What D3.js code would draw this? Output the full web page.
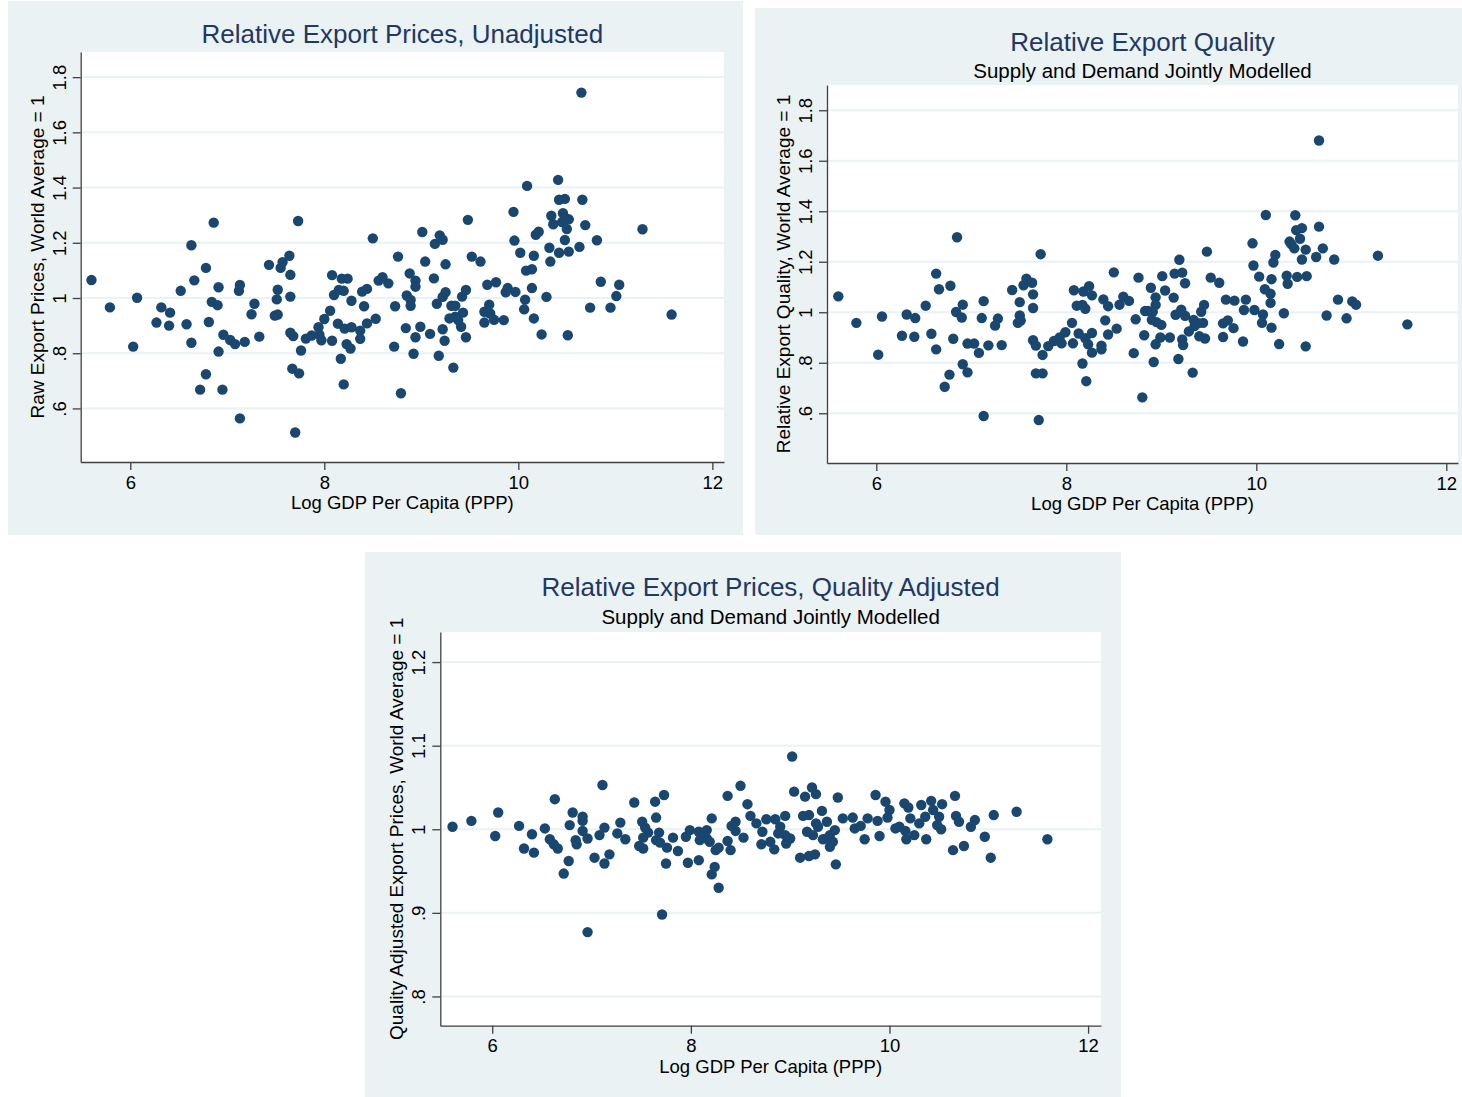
<!DOCTYPE html>
<html>
<head>
<meta charset="utf-8">
<script src="https://cdn.jsdelivr.net/npm/d3@7"></script>
<style>
  body { margin: 0; background: #fff; }
  svg { display: block; font-family: "Liberation Sans", Arial, sans-serif; }
</style>
</head>
<body>
<div id="chart"></div>
<script>
// Three Stata-style scatter plots: log GDP per capita against relative export prices / quality

var xTicks = [6, 8, 10, 12]
var xTickLabels = ['6', '8', '10', '12']
var yTicksWide = [0.6, 0.8, 1, 1.2, 1.4, 1.6, 1.8]
var yTickLabelsWide = ['.6', '.8', '1', '1.2', '1.4', '1.6', '1.8']
var yTicksNarrow = [0.8, 0.9, 1, 1.1, 1.2]
var yTickLabelsNarrow = ['.8', '.9', '1', '1.1', '1.2']

// [log GDP per capita, relative value]
var rawPrices = [
  [5.60,1.065],[5.79,0.966],[6.07,1.001],[6.03,0.824],[6.32,0.966],[6.41,0.947],[6.27,0.911],[6.40,0.900],
  [6.52,1.026],[6.63,1.191],[6.66,1.064],[6.58,0.905],[6.63,0.838],[6.78,1.109],[6.86,1.273],[6.91,1.039],
  [6.84,0.986],[6.90,0.974],[6.81,0.913],[6.96,0.867],[6.91,0.806],[6.78,0.724],[6.72,0.668],[6.95,0.668],
  [7.03,0.848],[7.08,0.833],[7.18,0.841],[7.13,1.047],[7.12,1.026],[7.13,0.564],[7.28,0.979],[7.25,0.941],
  [7.33,0.860],[7.43,1.120],[7.52,1.030],[7.51,0.995],[7.49,0.936],[7.52,0.940],[7.55,1.109],[7.57,1.130],
  [7.64,1.153],[7.65,1.084],[7.65,1.005],[7.73,1.279],[7.65,0.874],[7.68,0.862],[7.76,0.810],[7.67,0.744],
  [7.74,0.727],[7.70,0.513],[7.81,0.853],[7.87,0.864],[7.94,0.894],[7.95,0.867],[7.97,0.847],[8.00,0.924],
  [8.06,0.954],[8.08,1.083],[8.08,0.845],[8.10,1.011],[8.15,1.029],[8.20,1.026],[8.18,1.070],[8.24,1.070],
  [8.14,0.907],[8.21,0.889],[8.28,0.894],[8.28,0.990],[8.23,0.833],[8.27,0.817],[8.17,0.780],[8.20,0.687],
  [8.37,0.882],[8.37,0.852],[8.41,0.970],[8.39,1.023],[8.44,1.033],[8.44,0.908],[8.53,0.925],[8.50,1.216],
  [8.56,1.063],[8.60,1.075],[8.66,1.053],[8.72,0.824],[8.73,0.970],[8.76,1.150],[8.79,0.655],[8.84,0.891],
  [8.85,1.009],[8.88,1.089],[8.92,0.798],[9.01,1.239],[8.94,1.063],[8.94,1.041],[8.89,0.993],[8.89,0.972],
  [8.94,0.858],[8.99,0.896],[9.04,1.132],[9.13,1.071],[9.09,0.870],[9.18,0.791],[9.14,1.196],[9.19,1.227],
  [9.22,1.211],[9.25,1.122],[9.16,0.979],[9.22,1.004],[9.25,1.021],[9.22,0.887],[9.24,0.845],[9.33,0.748],
  [9.31,0.972],[9.35,0.972],[9.29,0.926],[9.35,0.932],[9.41,0.896],[9.43,0.947],[9.38,0.920],[9.42,1.005],
  [9.46,1.029],[9.46,0.858],[9.48,1.283],[9.52,1.150],[9.61,1.132],[9.65,0.911],[9.65,0.950],[9.70,0.976],
  [9.68,1.048],[9.75,0.921],[9.71,0.944],[9.77,1.057],[9.85,0.920],[9.87,1.021],[9.89,1.036],[9.97,1.022],
  [9.95,1.312],[9.96,1.208],[10.02,1.164],[10.09,1.406],[10.16,1.153],[10.14,1.036],[10.07,0.994],[10.06,0.959],
  [10.08,1.099],[10.14,1.104],[10.16,0.926],[10.24,0.868],[10.18,1.229],[10.21,1.240],[10.29,1.004],[10.32,1.182],
  [10.33,1.132],[10.42,1.164],[10.34,1.298],[10.41,1.428],[10.42,1.356],[10.48,1.359],[10.36,1.267],[10.46,1.307],
  [10.45,1.275],[10.52,1.285],[10.50,1.250],[10.48,1.210],[10.52,1.168],[10.51,0.865],[10.63,1.185],[10.66,1.356],
  [10.69,1.264],[10.65,1.744],[10.81,1.209],[10.74,0.965],[10.85,1.059],[10.95,0.965],[11.01,1.007],[11.04,1.048],
  [11.28,1.249],[11.58,0.940]
]

var exportQuality = [
  [5.60,1.063],[5.79,0.958],[6.06,0.983],[6.02,0.832],[6.32,0.991],[6.41,0.977],[6.27,0.907],[6.40,0.903],
  [6.52,1.026],[6.63,1.153],[6.66,1.091],[6.58,0.915],[6.63,0.853],[6.78,1.105],[6.85,1.297],[6.91,1.030],
  [6.84,1.001],[6.90,0.979],[6.81,0.895],[6.96,0.876],[6.91,0.794],[6.77,0.753],[6.72,0.705],[6.96,0.762],
  [7.03,0.876],[7.08,0.839],[7.18,0.869],[7.13,1.044],[7.11,0.977],[7.13,0.589],[7.28,0.975],[7.25,0.947],
  [7.32,0.870],[7.43,1.088],[7.51,1.040],[7.51,0.987],[7.49,0.958],[7.52,0.967],[7.58,1.133],[7.55,1.107],
  [7.64,1.117],[7.65,1.071],[7.65,1.017],[7.73,1.230],[7.65,0.889],[7.68,0.868],[7.75,0.831],[7.68,0.758],
  [7.75,0.758],[7.71,0.573],[7.81,0.866],[7.87,0.886],[7.93,0.900],[7.95,0.877],[7.99,0.921],[8.06,0.958],
  [8.08,1.087],[8.07,0.877],[8.11,1.026],[8.17,1.029],[8.20,1.014],[8.18,1.082],[8.24,1.103],[8.27,1.067],
  [8.13,0.916],[8.20,0.897],[8.23,0.873],[8.27,0.918],[8.27,0.840],[8.17,0.797],[8.21,0.727],[8.37,0.868],
  [8.37,0.853],[8.39,1.051],[8.44,1.024],[8.41,0.968],[8.44,0.912],[8.53,0.935],[8.50,1.158],[8.56,1.030],
  [8.60,1.062],[8.66,1.045],[8.71,0.838],[8.73,0.972],[8.76,1.137],[8.80,0.663],[8.83,1.005],[8.82,0.909],
  [8.89,1.097],[8.94,1.059],[8.94,1.029],[8.86,1.005],[8.91,1.002],[8.90,0.970],[8.95,0.961],[9.00,0.950],
  [8.94,0.873],[8.99,0.900],[8.92,0.803],[9.01,1.143],[9.04,1.086],[9.13,1.058],[9.14,1.153],[9.22,1.157],
  [9.19,1.208],[9.25,1.115],[9.15,0.990],[9.21,1.010],[9.25,0.986],[9.09,0.900],[9.18,0.815],[9.22,0.892],
  [9.23,0.870],[9.33,0.761],[9.29,0.924],[9.34,0.970],[9.35,0.945],[9.40,0.905],[9.44,0.958],[9.39,0.957],
  [9.42,1.002],[9.45,1.029],[9.46,0.896],[9.48,1.240],[9.52,1.137],[9.61,1.117],[9.68,1.050],[9.77,1.046],
  [9.89,1.050],[9.65,0.956],[9.70,0.968],[9.76,0.937],[9.65,0.902],[9.86,0.884],[9.87,1.009],[9.98,1.009],
  [9.96,1.273],[9.97,1.185],[10.03,1.141],[10.07,0.991],[10.06,0.958],[10.10,1.385],[10.09,1.091],[10.15,1.073],
  [10.15,1.037],[10.16,1.131],[10.18,1.197],[10.20,1.227],[10.16,0.939],[10.24,0.874],[10.29,0.996],[10.32,1.145],
  [10.33,1.113],[10.43,1.140],[10.53,1.143],[10.35,1.280],[10.37,1.269],[10.40,1.253],[10.41,1.384],[10.42,1.325],
  [10.48,1.333],[10.46,1.291],[10.52,1.248],[10.48,1.209],[10.52,0.865],[10.63,1.219],[10.66,1.680],[10.66,1.339],
  [10.70,1.253],[10.82,1.209],[10.74,0.987],[10.86,1.050],[10.95,0.976],[11.01,1.043],[11.05,1.030],[11.28,1.224],
  [11.59,0.952]
]

var adjustedPrices = [
  [5.60,1.003],[5.79,1.010],[6.06,1.020],[6.03,0.992],[6.27,1.004],[6.40,0.994],[6.32,0.977],[6.42,0.972],
  [6.53,1.001],[6.63,1.036],[6.58,0.988],[6.62,0.982],[6.66,0.977],[6.78,1.005],[6.81,1.020],[6.91,1.015],
  [6.91,1.010],[6.91,0.998],[6.84,0.987],[6.85,0.982],[6.96,0.989],[6.77,0.962],[6.72,0.947],[6.96,0.877],
  [7.03,0.966],[7.08,0.993],[7.13,1.002],[7.11,1.053],[7.13,0.959],[7.18,0.970],[7.26,0.995],[7.29,1.008],
  [7.34,0.988],[7.43,1.032],[7.51,1.009],[7.54,1.002],[7.57,0.996],[7.52,0.990],[7.48,0.980],[7.52,0.977],
  [7.64,1.033],[7.73,1.041],[7.65,1.014],[7.68,0.996],[7.65,0.987],[7.69,0.984],[7.76,0.978],[7.82,0.990],
  [7.75,0.959],[7.71,0.898],[7.87,0.974],[7.95,0.991],[7.99,0.999],[8.08,0.997],[8.13,0.993],[8.16,0.989],
  [8.09,0.987],[8.19,0.985],[8.16,0.999],[7.97,0.960],[8.08,0.963],[8.21,1.013],[8.24,0.955],[8.21,0.946],
  [8.28,0.930],[8.25,0.975],[8.28,0.978],[8.37,0.986],[8.40,0.975],[8.37,1.040],[8.50,1.052],[8.57,1.030],
  [8.41,1.004],[8.45,1.009],[8.45,0.998],[8.53,0.990],[8.60,1.016],[8.66,1.007],[8.72,0.997],[8.71,0.982],
  [8.76,1.012],[9.02,1.087],[9.04,1.045],[9.15,1.039],[9.22,1.050],[9.26,1.042],[9.48,1.038],[9.32,1.022],
  [9.13,1.016],[9.19,1.017],[8.85,1.012],[8.95,1.016],[8.90,1.003],[8.88,0.995],[8.95,0.993],[9.00,0.989],
  [8.96,0.983],[8.80,0.985],[8.84,0.976],[9.10,0.966],[9.19,0.968],[9.25,0.970],[9.17,0.997],[9.23,0.993],
  [9.28,1.003],[9.37,1.009],[9.26,1.007],[9.33,0.988],[9.40,0.993],[9.45,0.999],[9.43,0.985],[9.40,0.979],
  [9.37,0.989],[9.46,0.958],[9.53,1.013],[9.63,1.014],[9.65,1.001],[9.71,1.004],[9.78,1.013],[9.75,0.988],
  [9.88,1.010],[9.90,0.992],[9.86,1.041],[9.96,1.033],[10.00,1.023],[9.98,1.014],[10.06,1.001],[10.10,1.003],
  [10.16,0.998],[10.17,0.988],[10.25,0.993],[10.15,1.031],[10.19,1.026],[10.21,1.013],[10.32,1.029],[10.42,1.034],
  [10.53,1.030],[10.36,1.015],[10.44,1.023],[10.50,1.015],[10.30,1.007],[10.37,0.988],[10.48,1.005],[10.52,1.000],
  [10.66,1.040],[10.67,1.016],[10.70,1.009],[10.64,0.975],[10.75,0.980],[10.86,1.011],[10.82,1.003],[10.96,0.991],
  [11.02,0.966],[11.05,1.017],[11.28,1.021],[11.59,0.988]
]

var BG = '#eaf2f3'
var GRID = '#eaf2f3'
var NAVY = '#1a476f'
var TITLE = '#1f3864'
var AXIS = '#404040'

var panels = [
  {
    box: {x: 8, y: 1, w: 735, h: 534},
    plot: {left: 80.7, right: 724, top: 52, bottom: 462},
    xDomain: [5.489, 12.12], yDomain: [0.406, 1.891],
    yTicks: yTicksWide, yLabels: yTickLabelsWide,
    title: 'Relative Export Prices, Unadjusted', titleY: 43, subtitle: null,
    yTitle: 'Raw Export Prices, World Average = 1',
    data: rawPrices
  },
  {
    box: {x: 755, y: 8, w: 707, h: 527},
    plot: {left: 827, right: 1458, top: 85, bottom: 463},
    xDomain: [5.481, 12.123], yDomain: [0.403, 1.900],
    yTicks: yTicksWide, yLabels: yTickLabelsWide,
    title: 'Relative Export Quality', titleY: 51,
    subtitle: 'Supply and Demand Jointly Modelled', subtitleY: 78,
    yTitle: 'Relative Export Quality, World Average = 1',
    data: exportQuality
  },
  {
    box: {x: 365, y: 552, w: 756, h: 545},
    plot: {left: 440.3, right: 1101, top: 632, bottom: 1025.7},
    xDomain: [5.477, 12.13], yDomain: [0.765, 1.236],
    yTicks: yTicksNarrow, yLabels: yTickLabelsNarrow,
    title: 'Relative Export Prices, Quality Adjusted', titleY: 596,
    subtitle: 'Supply and Demand Jointly Modelled', subtitleY: 624,
    yTitle: 'Quality Adjusted Export Prices, World Average = 1',
    data: adjustedPrices
  }
]

var svg = d3.select('#chart').append('svg')
    .attr('width', 1462)
    .attr('height', 1097)

var drawPanel = function(p) {
    var g = svg.append('g')
    var cx = (p.plot.left + p.plot.right) / 2

    g.append('rect')
        .attr('x', p.box.x).attr('y', p.box.y)
        .attr('width', p.box.w).attr('height', p.box.h)
        .style('fill', BG)

    g.append('rect')
        .attr('x', p.plot.left).attr('y', p.plot.top)
        .attr('width', p.plot.right - p.plot.left)
        .attr('height', p.plot.bottom - p.plot.top)
        .style('fill', '#fff')

    var x = d3.scaleLinear().domain(p.xDomain).range([p.plot.left, p.plot.right])
    var y = d3.scaleLinear().domain(p.yDomain).range([p.plot.bottom, p.plot.top])

    g.selectAll('.grid')
        .data(p.yTicks)
        .enter().append('line')
        .attr('class', 'grid')
        .attr('x1', p.plot.left)
        .attr('x2', p.plot.right)
        .attr('y1', function(d) {return y(d)})
        .attr('y2', function(d) {return y(d)})
        .style('stroke', GRID)
        .style('stroke-width', 2)

    g.selectAll('.dot')
        .data(p.data)
        .enter().append('circle')
        .attr('class', 'dot')
        .attr('cx', function(d) {return x(d[0])})
        .attr('cy', function(d) {return y(d[1])})
        .attr('r', 5.2)
        .style('fill', NAVY)

    var xAxis = g.append('g')
        .attr('transform', 'translate(0,' + p.plot.bottom + ')')
        .call(d3.axisBottom(x)
            .tickValues(xTicks)
            .tickFormat(function(d, i) {return xTickLabels[i]})
            .tickSize(8)
            .tickSizeOuter(0)
            .tickPadding(5.5))

    var yAxis = g.append('g')
        .attr('transform', 'translate(' + p.plot.left + ',0)')
        .call(d3.axisLeft(y)
            .tickValues(p.yTicks)
            .tickFormat(function(d, i) {return p.yLabels[i]})
            .tickSize(8)
            .tickSizeOuter(0))

    yAxis.selectAll('text')
        .attr('x', null)
        .attr('dy', null)
        .attr('text-anchor', 'middle')
        .attr('transform', 'translate(-15,0) rotate(-90)')

    ;[xAxis, yAxis].forEach(function(a) {
        a.selectAll('path, line').style('stroke', AXIS).style('stroke-width', 1.3)
        a.selectAll('text')
            .style('font-family', '"Liberation Sans", Arial, sans-serif')
            .style('font-size', '18.5px')
            .style('fill', '#000')
    })

    g.append('text')
        .attr('x', cx)
        .attr('y', p.plot.bottom + 47)
        .attr('text-anchor', 'middle')
        .style('font-size', '18.5px')
        .text('Log GDP Per Capita (PPP)')

    g.append('text')
        .attr('transform', 'translate(' + (p.plot.left - 37) + ',' + ((p.plot.top + p.plot.bottom) / 2) + ') rotate(-90)')
        .attr('text-anchor', 'middle')
        .style('font-size', '19px')
        .text(p.yTitle)

    g.append('text')
        .attr('x', cx)
        .attr('y', p.titleY)
        .attr('text-anchor', 'middle')
        .style('font-size', '26px')
        .style('fill', TITLE)
        .text(p.title)

    if (p.subtitle) {
        g.append('text')
            .attr('x', cx)
            .attr('y', p.subtitleY)
            .attr('text-anchor', 'middle')
            .style('font-size', '20.5px')
            .text(p.subtitle)
    }
}

panels.forEach(drawPanel)
</script>
</body>
</html>
